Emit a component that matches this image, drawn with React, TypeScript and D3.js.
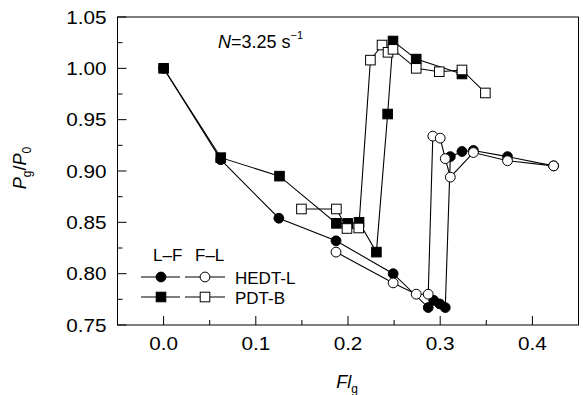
import React from "react";
import * as d3 from "d3";

// HEDT-L, L-F (filled circles)
const hedtLF_x = [0.0, 0.062, 0.125, 0.187, 0.249, 0.287, 0.293, 0.2995, 0.3055, 0.311, 0.3236, 0.336, 0.373, 0.423];
const hedtLF_y = [1.0, 0.911, 0.854, 0.832, 0.8, 0.767, 0.774, 0.7705, 0.767, 0.914, 0.919, 0.92, 0.914, 0.905];
// HEDT-L, F-L (open circles)
const hedtFL_x = [0.187, 0.249, 0.274, 0.287, 0.292, 0.3, 0.3055, 0.311, 0.336, 0.373, 0.423];
const hedtFL_y = [0.821, 0.791, 0.78, 0.78, 0.934, 0.932, 0.912, 0.894, 0.918, 0.91, 0.905];
// PDT-B, L-F (filled squares)
const pdtLF_x = [0.0, 0.062, 0.1257, 0.1874, 0.1997, 0.212, 0.2308, 0.243, 0.2488, 0.274, 0.3236];
const pdtLF_y = [1.0, 0.913, 0.895, 0.849, 0.849, 0.85, 0.821, 0.9555, 1.0266, 1.009, 0.9945];
// PDT-B, F-L (open squares)
const pdtFL_x = [0.1495, 0.1874, 0.1989, 0.2117, 0.2243, 0.2369, 0.2434, 0.2488, 0.274, 0.299, 0.3236, 0.349];
const pdtFL_y = [0.863, 0.863, 0.844, 0.8445, 1.008, 1.0227, 1.0156, 1.0185, 1.0, 0.9967, 0.9984, 0.976];

const xMajor = [0.0, 0.1, 0.2, 0.3, 0.4];
const xMinor = [-0.05, 0.05, 0.15, 0.25, 0.35, 0.45];
const yMajor = [0.75, 0.8, 0.85, 0.9, 0.95, 1.0, 1.05];
const yMinor = [0.775, 0.825, 0.875, 0.925, 0.975, 1.025];

const FONT = "'Liberation Sans', Arial, Helvetica, sans-serif";

type Pt = [number, number];
const zip = (xs: number[], ys: number[]): Pt[] => xs.map((v, i) => [v, ys[i]]);

export default function App() {
  const W = 583, H = 395;
  const L = 117.5, R = 578.5, T = 17, B = 325;
  const x = d3.scaleLinear().domain([-0.05, 0.45]).range([L, R]);
  const y = d3.scaleLinear().domain([0.75, 1.05]).range([B, T]);
  const line = d3.line<Pt>().x(d => x(d[0])).y(d => y(d[1]));
  const r = 4.9;
  const s = 9.6;

  const series = [
    { pts: zip(hedtLF_x, hedtLF_y), shape: "circle", fill: "#000" },
    { pts: zip(hedtFL_x, hedtFL_y), shape: "circle", fill: "#fff" },
    { pts: zip(pdtLF_x, pdtLF_y), shape: "square", fill: "#000" },
    { pts: zip(pdtFL_x, pdtFL_y), shape: "square", fill: "#fff" },
  ];

  const marker = (shape: string, fill: string, cx: number, cy: number, key: any) =>
    shape === "circle" ? (
      <circle key={key} cx={cx} cy={cy} r={r} fill={fill} stroke="#000" strokeWidth={1} />
    ) : (
      <rect key={key} x={cx - s / 2} y={cy - s / 2} width={s} height={s} fill={fill} stroke="#000" strokeWidth={1} />
    );

  const sx = 1.15;

  return (
    <svg width={W} height={H} style={{ position: "absolute", left: 0, top: 0 }} fontFamily={FONT}>
      <rect x={0} y={0} width={W} height={H} fill="#fff" />
      {/* frame */}
      <rect x={L} y={T} width={R - L} height={B - T} fill="none" stroke="#000" strokeWidth={1} />
      {/* ticks */}
      {xMajor.map(v => (
        <line key={"xM" + v} x1={x(v)} x2={x(v)} y1={B} y2={B - 9} stroke="#000" strokeWidth={1} />
      ))}
      {xMinor.map(v => (
        <line key={"xm" + v} x1={x(v)} x2={x(v)} y1={B} y2={B - 5} stroke="#000" strokeWidth={1} />
      ))}
      {yMajor.map(v => (
        <line key={"yM" + v} x1={L} x2={L + 9} y1={y(v)} y2={y(v)} stroke="#000" strokeWidth={1} />
      ))}
      {yMinor.map(v => (
        <line key={"ym" + v} x1={L} x2={L + 5} y1={y(v)} y2={y(v)} stroke="#000" strokeWidth={1} />
      ))}
      {/* tick labels */}
      {xMajor.map(v => (
        <text key={"xl" + v} transform={`translate(${x(v)},${B + 25}) scale(${sx},1)`} textAnchor="middle" fontSize={18}>
          {d3.format(".1f")(v)}
        </text>
      ))}
      {yMajor.map(v => (
        <text key={"yl" + v} transform={`translate(${L - 11},${y(v) + 6.5}) scale(${sx},1)`} textAnchor="end" fontSize={18}>
          {d3.format(".2f")(v)}
        </text>
      ))}
      {/* axis titles */}
      <text transform={`translate(347,388)`} textAnchor="middle" fontSize={18}>
        <tspan fontStyle="italic">Fl</tspan>
        <tspan fontSize={12} dy={5}>g</tspan>
      </text>
      <text transform={`translate(26,168) rotate(-90)`} textAnchor="middle" fontSize={18}>
        <tspan fontStyle="italic">P</tspan>
        <tspan fontSize={12} dy={5}>g</tspan>
        <tspan dy={-5}>/</tspan>
        <tspan fontStyle="italic">P</tspan>
        <tspan fontSize={12} dy={5}>0</tspan>
      </text>
      {/* annotation */}
      <text x={218} y={48} fontSize={18}>
        <tspan fontStyle="italic">N</tspan>
        <tspan>=3.25 s</tspan>
        <tspan fontSize={11} dy={-9}>−1</tspan>
      </text>
      {/* data */}
      {series.map((sr, i) => (
        <g key={"s" + i}>
          <path d={line(sr.pts) || ""} fill="none" stroke="#000" strokeWidth={1.1} />
          {sr.pts.map((p, j) => marker(sr.shape, sr.fill, x(p[0]), y(p[1]), j))}
        </g>
      ))}
      {/* legend */}
      <text x={153} y={261} fontSize={17}>L–F</text>
      <text x={195} y={261} fontSize={17}>F–L</text>
      {[
        { label: "HEDT-L", shape: "circle", yy: 277 },
        { label: "PDT-B", shape: "square", yy: 297 },
      ].map(it => (
        <g key={it.label}>
          <line x1={141} x2={180} y1={it.yy} y2={it.yy} stroke="#000" strokeWidth={1.1} />
          {marker(it.shape, "#000", 161, it.yy, "f")}
          <line x1={185} x2={225} y1={it.yy} y2={it.yy} stroke="#000" strokeWidth={1.1} />
          {marker(it.shape, "#fff", 205, it.yy, "o")}
          <text x={235} y={it.yy + 7} fontSize={17}>{it.label}</text>
        </g>
      ))}
    </svg>
  );
}
